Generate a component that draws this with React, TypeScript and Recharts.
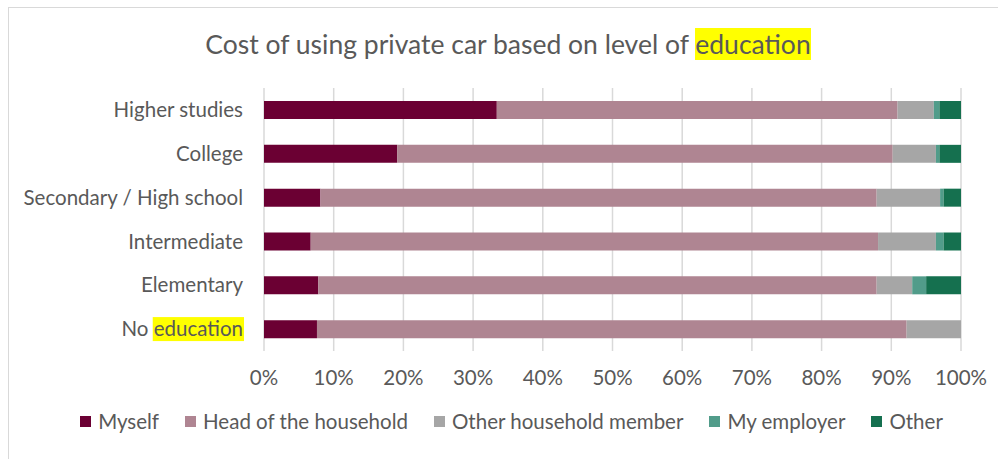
import {useLayoutEffect, useRef, useState} from 'react';
import {Bar, BarChart, CartesianGrid, Legend, XAxis, YAxis} from 'recharts';

const categories = [
  'Higher studies',
  'College',
  'Secondary / High school',
  'Intermediate',
  'Elementary',
  'No education',
];
const myself = [33.4, 19.1, 8.1, 6.7, 7.8, 7.6];
const headOfHousehold = [57.5, 71.1, 79.8, 81.4, 80.1, 84.6];
const otherMember = [5.2, 6.2, 9.1, 8.3, 5.1, 7.8];
const myEmployer = [0.8, 0.5, 0.5, 1.1, 2.0, 0];
const other = [3.1, 3.1, 2.5, 2.5, 5.0, 0];
const xTicks = [0, 10, 20, 30, 40, 50, 60, 70, 80, 90, 100];

const series = [
  {key: 'myself', name: 'Myself', color: '#6b0033'},
  {key: 'head', name: 'Head of the household', color: '#af8592'},
  {key: 'otherMember', name: 'Other household member', color: '#a6a6a6'},
  {key: 'employer', name: 'My employer', color: '#519c8a'},
  {key: 'other', name: 'Other', color: '#15704f'},
];

const data = categories.map((name, i) => ({
  name,
  myself: myself[i],
  head: headOfHousehold[i],
  otherMember: otherMember[i],
  employer: myEmployer[i],
  other: other[i],
}));

const FONT = 'Lato, "Open Sans", sans-serif';
const TEXT = '#595959';
const HIGHLIGHT = 'education';
const LABEL_SIZE = 20.5;

function CategoryTick(props: any) {
  const {x, y, payload} = props;
  const label: string = payload.value;
  const ref = useRef<SVGTextElement>(null);
  const [box, setBox] = useState<{x: number; w: number} | null>(null);
  const idx = label.indexOf(HIGHLIGHT);

  useLayoutEffect(() => {
    const el = ref.current;
    if (!el || idx < 0) return;
    const total = el.getComputedTextLength();
    const start = el.getSubStringLength(0, idx);
    const w = el.getSubStringLength(idx, HIGHLIGHT.length);
    setBox({x: x - total + start, w});
  }, [label, x, idx]);

  return (
    <g>
      {box && <rect x={box.x - 1} y={y - 12} width={box.w + 2} height={24} fill="#ffff00" />}
      <text
        ref={ref}
        x={x}
        y={y}
        dy="0.35em"
        textAnchor="end"
        fill={TEXT}
        fontSize={LABEL_SIZE}
        fontFamily={FONT}
      >
        {label}
      </text>
    </g>
  );
}

function LegendContent() {
  return (
    <div
      style={{
        display: 'flex',
        justifyContent: 'center',
        gap: 26,
        fontFamily: FONT,
        fontSize: LABEL_SIZE,
        color: TEXT,
        marginLeft: 62,
      }}
    >
      {series.map((s) => (
        <div key={s.key} style={{display: 'flex', alignItems: 'center', gap: 7}}>
          <span style={{width: 11, height: 11, background: s.color, display: 'inline-block'}} />
          <span>{s.name}</span>
        </div>
      ))}
    </div>
  );
}

export default function App() {
  return (
    <div style={{position: 'absolute', left: 0, top: 0, width: 998, height: 459, background: '#fff'}}>
      <div
        style={{
          position: 'absolute',
          left: 8,
          top: 7,
          right: 0,
          bottom: 0,
          borderLeft: '1px solid #d9d9d9',
          borderTop: '1px solid #d9d9d9',
        }}
      />
      <div
        style={{
          position: 'absolute',
          left: 0,
          top: 28,
          width: 1016,
          textAlign: 'center',
          fontFamily: FONT,
          fontSize: 26.5,
          color: TEXT,
          lineHeight: '33px',
        }}
      >
        Cost of using private car based on level of{' '}
        <span style={{background: '#ffff00'}}>education</span>
      </div>
      <BarChart
        width={998}
        height={459}
        data={data}
        layout="vertical"
        barSize={18}
        margin={{top: 88, right: 37, left: 0, bottom: 10}}
        style={{position: 'absolute', left: 0, top: 0}}
      >
        <CartesianGrid horizontal={false} stroke="#d9d9d9" strokeWidth={1.5} />
        <XAxis
          type="number"
          domain={[0, 100]}
          ticks={xTicks}
          tickFormatter={(v) => `${v}%`}
          axisLine={false}
          tickLine={false}
          tickSize={0}
          tickMargin={19}
          height={58}
          interval={0}
          tick={{fill: TEXT, fontSize: LABEL_SIZE, fontFamily: FONT}}
        />
        <YAxis
          type="category"
          dataKey="name"
          width={264}
          axisLine={false}
          tickLine={false}
          tickSize={0}
          tickMargin={21}
          interval={0}
          tick={<CategoryTick />}
        />
        <Legend verticalAlign="bottom" height={40} content={<LegendContent />} />
        {series.map((s) => (
          <Bar
            key={s.key}
            dataKey={s.key}
            name={s.name}
            stackId="a"
            fill={s.color}
            isAnimationActive={false}
          />
        ))}
      </BarChart>
    </div>
  );
}
